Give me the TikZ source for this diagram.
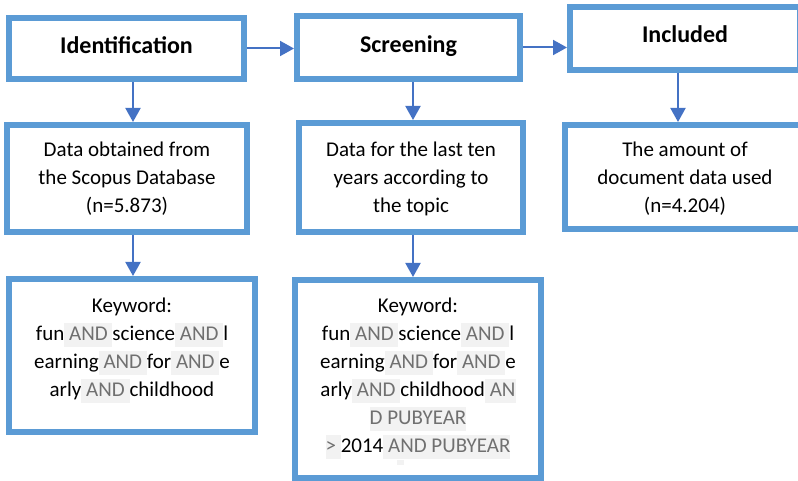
\documentclass[tikz,border=0pt]{standalone}
\usepackage{fontspec}
\setmainfont{Carlito}
\usetikzlibrary{arrows.meta}
\definecolor{frameblue}{HTML}{5B9BD5}
\definecolor{arrowblue}{HTML}{4472C4}
\definecolor{hlbg}{HTML}{F2F2F2}
\definecolor{andgray}{HTML}{707070}
\newcommand\hlA[1]{{\setlength{\fboxsep}{0pt}\colorbox{hlbg}{\rule[-7pt]{0pt}{24pt}\textcolor{andgray}{#1}}}}
\begin{document}
\begin{tikzpicture}[x=1pt,y=-1pt,
  frame/.style={draw=frameblue, line width=6pt, fill=white, inner sep=0pt},
  title/.style={font=\fontsize{24}{28}\selectfont\bfseries, inner sep=0pt, anchor=base},
  body/.style={font=\fontsize{21}{28}\selectfont, align=center, inner sep=0pt, anchor=base},
  arr/.style={draw=arrowblue, line width=2pt, -{Triangle[length=14pt,width=15pt]}}]
\useasboundingbox (0,0) rectangle (798,481);
% frames
\node[frame, minimum width=235pt, minimum height=61pt] (ident) at (126.5,48.5) {};
\node[frame, minimum width=223pt, minimum height=63pt] (screen) at (408.5,47.5) {};
\node[frame, minimum width=230pt, minimum height=63pt] (incl) at (685,38.5) {};
\node[frame, minimum width=240pt, minimum height=107pt] (data1) at (127,178.5) {};
\node[frame, minimum width=224pt, minimum height=109pt] (data2) at (411,177.5) {};
\node[frame, minimum width=240pt, minimum height=104pt] (data3) at (685,177) {};
\node[frame, minimum width=246pt, minimum height=153pt] (kw1) at (132,355.5) {};
\node[frame, minimum width=246pt, minimum height=198pt] (kw2) at (418,379) {};
% texts
\node[title] (identtext) at (126.5,54) {Identification};
\node[title] (screentext) at (408.5,52.5) {Screening};
\node[title] (incltext) at (685,43) {Included};
\node[body] (data1text) at (127,213) {Data obtained from\\the Scopus Database\\(n=5.873)};
\node[body] (data2text) at (411,212.5) {Data for the last ten\\years according to\\the topic};
\node[body] (data3text) at (685,213) {The amount of\\document data used\\(n=4.204)};
\node[body] (kw1text) at (132,396)
  {Keyword:\\
   fun\hlA{\ AND\ }science\hlA{\ AND\ }l\\
   earning\hlA{\ AND\ }for\hlA{\ AND\ }e\\
   arly\hlA{\ AND\ }childhood};
\node[body] (kw2text) at (418,452)
  {Keyword:\\
   fun\hlA{\ AND\ }science\hlA{\ AND\ }l\\
   earning\hlA{\ AND\ }for\hlA{\ AND\ }e\\
   arly\hlA{\ AND\ }childhood\hlA{\ AN}\\
   \hlA{D PUBYEAR}\\
   \hlA{>\ }2014\hlA{\ AND PUBYEAR}};
\fill[hlbg] (397,460) rectangle (404,465);
% connectors
\coordinate (xa) at (133,0);
\coordinate (xb) at (413,0);
\coordinate (xc) at (678,0);
\draw[arr] (ident.east) -- (ident.east -| screen.west);
\draw[arr] (screen.east) -- (screen.east -| incl.west);
\draw[arr] (ident.south -| xa) -- (data1.north -| xa);
\draw[arr] (data1.south -| xa) -- (kw1.north -| xa);
\draw[arr] (screen.south -| xb) -- (data2.north -| xb);
\draw[arr] (data2.south -| xb) -- (kw2.north -| xb);
\draw[arr] (incl.south -| xc) -- (data3.north -| xc);
\end{tikzpicture}
\end{document}
